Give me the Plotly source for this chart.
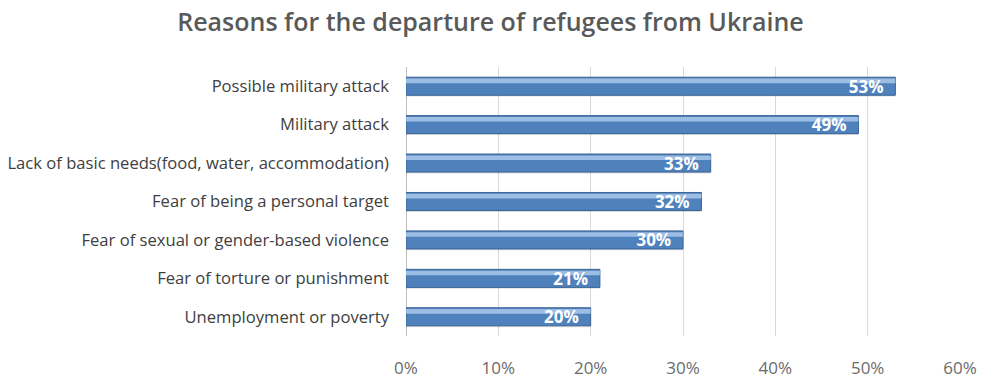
import plotly.graph_objects as go

categories = [
    "Possible military attack",
    "Military attack",
    "Lack of basic needs(food, water, accommodation)",
    "Fear of being a personal target",
    "Fear of sexual or gender-based violence",
    "Fear of torture or punishment",
    "Unemployment or poverty",
]
values = [0.53, 0.49, 0.33, 0.32, 0.30, 0.21, 0.20]
labels = ["53%", "49%", "33%", "32%", "30%", "21%", "20%"]
title = "Reasons for the departure of refugees from Ukraine"

font_main = "Open Sans"
gray = "#595959"

fig = go.Figure()

# shadow
fig.add_trace(go.Bar(
    y=categories, x=values, orientation="h",
    width=0.47, offset=-0.2,
    marker=dict(color="rgba(0,0,0,0.12)", line=dict(width=0)),
    hoverinfo="skip", showlegend=False,
))
# main bar
fig.add_trace(go.Bar(
    y=categories, x=values, orientation="h",
    width=0.47, offset=-0.235,
    marker=dict(color="#4F81BD", line=dict(color="#3A6395", width=1)),
    showlegend=False, hoverinfo="skip",
))
# highlight stripe
fig.add_trace(go.Bar(
    y=categories, x=values, orientation="h",
    width=0.12, offset=-0.2,
    marker=dict(color="rgba(190,215,245,0.7)", line=dict(width=0)),
    showlegend=False, hoverinfo="skip",
))
# labels
fig.add_trace(go.Bar(
    y=categories, x=values, orientation="h",
    width=0.47, offset=-0.235,
    marker=dict(color="rgba(0,0,0,0)", line=dict(width=0)),
    text=[l + "  " for l in labels], textposition="inside", insidetextanchor="end",
    textfont=dict(color="white", size=17, family=font_main, weight="bold"),
    constraintext="none", cliponaxis=False,
    showlegend=False, hoverinfo="skip",
))

fig.update_layout(
    width=981, height=378,
    barmode="overlay",
    margin=dict(l=406, r=21, t=67, b=42),
    paper_bgcolor="white", plot_bgcolor="white",
    title=dict(text=title, x=0.5, xref="container", xanchor="center",
               y=0.94, yref="container", yanchor="middle",
               font=dict(family=font_main, size=25, color=gray, weight=600)),
    font=dict(family=font_main, color=gray),
)
fig.update_xaxes(
    range=[0, 0.6], dtick=0.1, tickformat=".0%",
    showgrid=True, gridcolor="#D9D9D9", gridwidth=1,
    zeroline=True, zerolinecolor="#BFBFBF", zerolinewidth=1,
    tickfont=dict(size=17, color="#6B6B6B", family=font_main),
    ticks="", ticklabelstandoff=20, automargin=False,
)
fig.update_yaxes(
    autorange="reversed", type="category",
    tickfont=dict(size=16.6, color="#404040", family=font_main),
    ticks="", ticklabelstandoff=16, showgrid=False, automargin=False,
)

fig.write_html("out.html")
